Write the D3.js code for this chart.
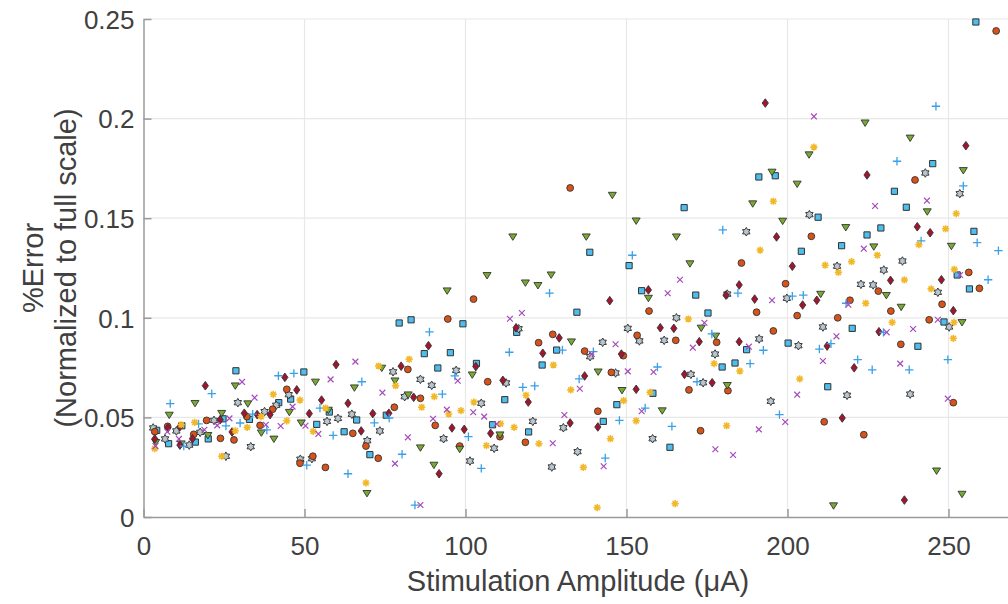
<!DOCTYPE html>
<html><head><meta charset="utf-8">
<script src="https://cdn.jsdelivr.net/npm/d3@7"></script>
<style>body{margin:0;background:#fff}svg{display:block}</style>
</head><body>
<svg id="c" width="1008" height="604"></svg>
<script>
// ---- data (x: Stimulation Amplitude µA, y: %Error) ----
const xTicks = [0, 50, 100, 150, 200, 250];
const yTicks = [0, 0.05, 0.1, 0.15, 0.2, 0.25];
const yTickLabels = ["0", "0.05", "0.1", "0.15", "0.2", "0.25"];

const plusPts = [[41.9,0.0709],[46.7,0.0721],[21.2,0.0619],[8.3,0.0569],[54.8,0.0547],[33.9,0.0516],[17.1,0.0467],[25.6,0.0457],[30.0,0.0472],[38.3,0.0437],[58.9,0.0410],[12.5,0.0356],[50.7,0.0260],[88.8,0.0929],[113.6,0.0827],[96.7,0.0708],[67.8,0.0679],[92.8,0.0617],[117.8,0.0651],[121.5,0.0658],[76.3,0.0497],[71.7,0.0473],[100.9,0.0403],[80.3,0.0315],[63.5,0.0217],[84.3,0.0060],[104.9,0.0244],[179.9,0.1441],[151.8,0.1314],[126.1,0.1124],[184.6,0.1124],[176.5,0.0919],[130.1,0.0838],[139.7,0.0830],[159.6,0.0753],[135.3,0.0693],[171.9,0.0679],[147.8,0.0485],[155.8,0.0547],[164.1,0.0455],[143.4,0.0296],[246.1,0.2062],[234.0,0.1786],[254.6,0.1662],[241.5,0.1386],[258.9,0.1377],[265.5,0.1337],[262.3,0.1191],[201.5,0.1109],[204.9,0.1114],[218.2,0.1073],[229.8,0.0927],[213.5,0.0870],[209.9,0.0843],[192.5,0.0837],[249.8,0.0790],[221.8,0.0790],[226.3,0.0739],[237.8,0.0739],[188.4,0.0770],[197.5,0.0514]];

const circlePts = [[44.5,0.0641],[40.1,0.0541],[32.1,0.0504],[19.6,0.0485],[36.2,0.0460],[15.6,0.0415],[23.9,0.0395],[28.1,0.0387],[3.5,0.0428],[7.5,0.0455],[48.6,0.0270],[52.6,0.0305],[56.5,0.0249],[102.5,0.1094],[94.5,0.0994],[122.7,0.0875],[82.1,0.0741],[106.9,0.0679],[86.0,0.0596],[77.9,0.0551],[90.6,0.0460],[110.7,0.0403],[65.0,0.0420],[69.1,0.0356],[72.9,0.0295],[98.2,0.0356],[118.6,0.0375],[157.0,0.1034],[127.1,0.0917],[153.3,0.0912],[165.3,0.0887],[178.0,0.0877],[137.0,0.0833],[149.0,0.0810],[145.3,0.0726],[181.5,0.0634],[169.4,0.0638],[141.1,0.0531],[173.0,0.0433],[132.5,0.1652],[264.8,0.2440],[239.6,0.1692],[207.4,0.1409],[185.7,0.1275],[256.3,0.1228],[259.6,0.1148],[199.4,0.1171],[228.2,0.1134],[219.4,0.1088],[248.0,0.1068],[232.1,0.1034],[190.4,0.1028],[203.0,0.1011],[215.6,0.1000],[244.0,0.0990],[195.6,0.0934],[235.2,0.0867],[251.5,0.0574],[211.4,0.0478],[223.7,0.0413]];

const asteriskPts = [[40.3,0.0616],[48.6,0.0587],[56.5,0.0547],[36.5,0.0504],[44.5,0.0483],[15.9,0.0475],[32.2,0.0450],[52.7,0.0430],[28.5,0.0433],[11.7,0.0463],[3.5,0.0343],[24.3,0.0305],[82.5,0.0792],[73.0,0.0758],[78.3,0.0659],[90.3,0.0604],[118.8,0.0611],[102.6,0.0577],[86.4,0.0551],[94.8,0.0517],[98.6,0.0534],[110.9,0.0468],[115.1,0.0450],[69.1,0.0171],[106.5,0.0358],[122.8,0.0368],[169.2,0.0994],[127.3,0.0763],[177.2,0.0770],[132.7,0.0638],[157.3,0.0626],[185.2,0.0733],[149.1,0.0584],[153.0,0.0483],[181.1,0.0458],[145.0,0.0393],[136.6,0.0249],[165.1,0.0067],[140.9,0.0047],[208.2,0.1857],[195.6,0.1585],[252.4,0.1523],[249.1,0.1447],[240.8,0.1367],[191.5,0.1340],[227.9,0.1314],[211.7,0.1264],[215.8,0.1228],[219.9,0.1282],[236.3,0.1190],[251.8,0.1243],[244.6,0.1145],[224.3,0.1073],[251.7,0.0977],[232.5,0.0977],[251.5,0.0897],[203.8,0.0693]];

const crossPts = [[58.1,0.0691],[30.6,0.0678],[34.5,0.0599],[46.3,0.0554],[50.3,0.0458],[26.7,0.0495],[22.9,0.0460],[38.0,0.0463],[42.6,0.0457],[54.3,0.0417],[18.9,0.0438],[11.0,0.0392],[7.4,0.0428],[3.7,0.0356],[117.5,0.1024],[113.8,0.0995],[65.8,0.0780],[97.6,0.0684],[74.2,0.0624],[94.2,0.0539],[102.4,0.0526],[105.8,0.0504],[89.9,0.0493],[109.7,0.0467],[82.1,0.0400],[78.1,0.0268],[86.0,0.0060],[166.6,0.1191],[162.8,0.1123],[174.2,0.0975],[146.6,0.0867],[170.6,0.0850],[139.2,0.0818],[150.4,0.0731],[158.4,0.0728],[135.5,0.0644],[130.7,0.0512],[154.7,0.0531],[127.1,0.0370],[177.6,0.0340],[183.1,0.0311],[142.9,0.0255],[208.2,0.2011],[227.2,0.1561],[243.3,0.1588],[223.7,0.1347],[253.6,0.1215],[195.2,0.1088],[218.9,0.1066],[246.7,0.0990],[239.0,0.0944],[230.8,0.0927],[215.2,0.0907],[188.0,0.0855],[211.0,0.0783],[235.0,0.0770],[203.0,0.0614],[249.8,0.0594],[199.3,0.0477],[191.1,0.0440]];

const trianglePts = [[53.4,0.0678],[28.5,0.0659],[16.0,0.0571],[32.4,0.0569],[57.4,0.0537],[45.3,0.0526],[8.0,0.0512],[24.3,0.0521],[49.0,0.0473],[36.6,0.0423],[40.5,0.0392],[20.0,0.0410],[11.7,0.0368],[3.8,0.0375],[118.6,0.1176],[122.5,0.1163],[94.3,0.1136],[74.0,0.0748],[102.1,0.0714],[78.1,0.0684],[65.5,0.0649],[82.2,0.0614],[110.7,0.0413],[86.0,0.0348],[90.2,0.0261],[69.4,0.0119],[98.2,0.0341],[114.7,0.1407],[106.7,0.1213],[153.0,0.1487],[137.5,0.1407],[165.5,0.1407],[169.7,0.1272],[126.6,0.1216],[156.8,0.1099],[173.2,0.0949],[177.7,0.0909],[132.9,0.0880],[141.2,0.0729],[181.3,0.0661],[148.6,0.0636],[161.1,0.0534],[145.6,0.1616],[224.1,0.1979],[238.1,0.1903],[206.7,0.1819],[254.6,0.1740],[195.2,0.1732],[203.0,0.1672],[189.2,0.1573],[243.4,0.1533],[198.5,0.1486],[218.1,0.1454],[250.9,0.1360],[226.8,0.1357],[210.3,0.1119],[230.7,0.1113],[235.3,0.1054],[254.2,0.0977],[246.3,0.0232],[254.2,0.0115],[214.3,0.0057]];

const squarePts = [[28.7,0.0734],[49.8,0.0728],[45.7,0.0592],[42.0,0.0574],[57.7,0.0527],[32.9,0.0490],[53.8,0.0465],[24.7,0.0493],[20.1,0.0392],[16.1,0.0376],[11.9,0.0458],[4.1,0.0435],[7.8,0.0368],[79.4,0.0974],[83.1,0.0990],[99.2,0.0970],[115.9,0.0927],[87.2,0.0820],[95.3,0.0825],[103.4,0.0771],[91.4,0.0748],[112.2,0.0589],[66.2,0.0487],[75.4,0.0511],[108.4,0.0463],[119.6,0.0427],[62.3,0.0428],[70.3,0.0313],[167.9,0.1553],[138.6,0.1329],[150.8,0.1262],[154.7,0.1136],[171.5,0.1114],[134.6,0.1028],[175.3,0.1024],[128.3,0.0838],[183.7,0.0773],[179.7,0.0753],[123.8,0.0763],[158.2,0.0621],[147.0,0.0564],[142.8,0.0480],[163.5,0.0350],[258.5,0.2485],[245.1,0.1774],[196.2,0.1713],[191.1,0.1707],[233.2,0.1635],[236.9,0.1555],[209.5,0.1505],[229.0,0.1451],[257.9,0.1434],[224.7,0.1416],[216.8,0.1362],[204.3,0.1334],[252.7,0.1215],[256.5,0.1145],[248.6,0.0979],[220.1,0.0947],[200.2,0.0873],[240.5,0.0857],[187.3,0.0840],[212.5,0.0654]];

const diamondPts = [[43.9,0.0701],[47.6,0.0638],[59.8,0.0765],[19.2,0.0659],[55.3,0.0587],[51.5,0.0519],[31.3,0.0521],[35.3,0.0514],[39.3,0.0514],[23.8,0.0488],[27.5,0.0427],[15.2,0.0393],[11.3,0.0361],[7.6,0.0448],[11.3,0.0453],[3.5,0.0392],[115.7,0.0950],[88.5,0.0860],[103.2,0.0755],[80.0,0.0757],[83.9,0.0601],[111.6,0.0686],[119.5,0.0577],[63.5,0.0571],[71.2,0.0519],[76.2,0.0521],[95.8,0.0447],[99.6,0.0440],[107.8,0.0420],[67.6,0.0432],[91.8,0.0217],[185.0,0.1165],[156.8,0.1140],[180.9,0.1114],[144.8,0.1086],[160.5,0.0950],[164.7,0.0947],[172.6,0.0880],[129.1,0.0899],[185.0,0.0880],[148.4,0.0818],[124.0,0.0822],[168.0,0.0716],[137.0,0.0708],[176.6,0.0674],[153.0,0.0641],[132.5,0.0472],[141.1,0.0452],[193.1,0.2078],[255.4,0.1864],[224.7,0.1717],[240.3,0.1457],[244.3,0.1427],[196.6,0.1406],[201.5,0.1259],[232.0,0.1188],[247.8,0.1191],[209.1,0.1088],[204.7,0.1064],[189.8,0.1094],[251.5,0.1036],[228.4,0.0930],[212.3,0.0858],[220.7,0.0749],[217.0,0.0497],[236.3,0.0085]];

const hexagramPts = [[45.1,0.0614],[29.3,0.0574],[41.2,0.0561],[60.4,0.0495],[37.6,0.0529],[57.0,0.0480],[21.9,0.0485],[17.6,0.0425],[14.2,0.0361],[33.3,0.0353],[3.0,0.0447],[10.2,0.0432],[6.7,0.0392],[25.6,0.0305],[48.7,0.0290],[52.3,0.0293],[116.5,0.0945],[77.5,0.0729],[97.1,0.0736],[86.0,0.0691],[112.6,0.0673],[89.5,0.0661],[81.1,0.0604],[104.9,0.0571],[64.7,0.0516],[120.9,0.0480],[73.4,0.0432],[93.2,0.0393],[69.5,0.0383],[101.4,0.0281],[108.9,0.0345],[181.3,0.1119],[165.5,0.1000],[150.4,0.0947],[154.0,0.0884],[161.7,0.0887],[142.6,0.0877],[138.7,0.0805],[177.5,0.0818],[146.6,0.0723],[170.0,0.0716],[173.8,0.0674],[130.4,0.0448],[158.1,0.0393],[134.8,0.0328],[126.8,0.0251],[242.8,0.1727],[253.5,0.1623],[206.8,0.1518],[187.2,0.1432],[215.4,0.1259],[235.7,0.1285],[229.9,0.1240],[246.7,0.1128],[222.8,0.1168],[226.6,0.1165],[199.8,0.1098],[250.2,0.0954],[211.0,0.0954],[191.2,0.0894],[203.4,0.0860],[218.5,0.0611],[238.1,0.0617],[194.8,0.0581]];

// ---- layout ----
const svg = d3.select("#c");
const x = d3.scaleLinear().domain([0, 270]).range([143.5, 143.5 + 270 * 3.22]);
const y = d3.scaleLinear().domain([0, 0.25]).range([517, 19]);
const FONT = "'Liberation Sans', Arial, Helvetica, sans-serif";
const TXT = "#404040";

// grid
const g = svg.append("g");
g.selectAll(".gx").data(xTicks.slice(1)).join("line")
  .attr("x1", d => x(d)).attr("x2", d => x(d)).attr("y1", y(0)).attr("y2", y(0.25))
  .attr("stroke", "#e8e8e8").attr("stroke-width", 1.2);
g.selectAll(".gy").data(yTicks.slice(1)).join("line")
  .attr("x1", x(0)).attr("x2", 1008).attr("y1", d => y(d)).attr("y2", d => y(d))
  .attr("stroke", "#e8e8e8").attr("stroke-width", 1.2);

// axes (inward ticks)
const xAxis = d3.axisBottom(x).tickValues(xTicks).tickSize(-8).tickSizeOuter(0).tickFormat(d3.format("d")).tickPadding(20);
const yAxis = d3.axisLeft(y).tickValues(yTicks).tickSize(-8).tickSizeOuter(0).tickFormat((d, i) => yTickLabels[i]).tickPadding(9);
const ax = svg.append("g").attr("transform", `translate(0,${y(0)})`).call(xAxis);
const ay = svg.append("g").attr("transform", `translate(${x(0)},0)`).call(yAxis);
[ax, ay].forEach(a => {
  a.select(".domain").attr("stroke", "#9a9a9a").attr("stroke-width", 1.5);
  a.selectAll(".tick line").attr("stroke", "#9a9a9a").attr("stroke-width", 1.5);
  a.selectAll(".tick text").attr("fill", TXT).attr("font-size", 26).attr("font-family", FONT);
});
ay.selectAll(".tick text").attr("dy", "0.36em");

// labels
svg.append("text").attr("x", 578).attr("y", 591).attr("text-anchor", "middle")
  .attr("font-family", FONT).attr("font-size", 29).attr("fill", TXT).text("Stimulation Amplitude (μA)");
svg.append("text").attr("transform", "translate(43,268) rotate(-90)").attr("text-anchor", "middle")
  .attr("font-family", FONT).attr("font-size", 29).attr("fill", TXT).text("%Error");
svg.append("text").attr("transform", "translate(76,268) rotate(-90)").attr("text-anchor", "middle")
  .attr("font-family", FONT).attr("font-size", 29).attr("fill", TXT).text("(Normalized to full scale)");

// marker shapes
const hexPath = (() => {
  const ro = 4.3, ri = 2.5; let p = "";
  for (let k = 0; k < 12; k++) {
    const a = -Math.PI / 2 + k * Math.PI / 6, r = k % 2 ? ri : ro;
    p += (k ? "L" : "M") + (r * Math.cos(a)).toFixed(2) + "," + (r * Math.sin(a)).toFixed(2);
  }
  return p + "Z";
})();
const shapes = {
  square: "M-3.1,-3.1H3.1V3.1H-3.1Z",
  circle: "M3.4,0A3.4,3.4 0 1,1 -3.4,0A3.4,3.4 0 1,1 3.4,0Z",
  diamond: "M0,-4.3L3.1,0L0,4.3L-3.1,0Z",
  triangle: "M-4,-2.8L4,-2.8L0,3.6Z",
  plus: "M-4.2,0H4.2M0,-4.2V4.2",
  cross: "M-2.9,-2.9L2.9,2.9M-2.9,2.9L2.9,-2.9",
  asterisk: "M-3.6,0H3.6M0,-3.6V3.6M-2.6,-2.6L2.6,2.6M-2.6,2.6L2.6,-2.6",
  hexagram: hexPath
};
const series = [
  {pts: squarePts, shape: "square", fill: "#4DBEEE", stroke: "#333", sw: 1},
  {pts: hexagramPts, shape: "hexagram", fill: "#b9c6cf", stroke: "#3a3a3a", sw: 1},
  {pts: circlePts, shape: "circle", fill: "#D95319", stroke: "#333", sw: 0.9},
  {pts: trianglePts, shape: "triangle", fill: "#77AC30", stroke: "#333", sw: 0.9},
  {pts: diamondPts, shape: "diamond", fill: "#A2142F", stroke: "#333", sw: 0.9},
  {pts: plusPts, shape: "plus", fill: "none", stroke: "#3aa0e8", sw: 1.3},
  {pts: asteriskPts, shape: "asterisk", fill: "none", stroke: "#F2B82A", sw: 1.6},
  {pts: crossPts, shape: "cross", fill: "none", stroke: "#A54BBA", sw: 1.2}
];
const plot = svg.append("g");
series.forEach(s => {
  plot.append("g").selectAll("path").data(s.pts).join("path")
    .attr("d", shapes[s.shape])
    .attr("transform", d => `translate(${x(d[0])},${y(d[1])})`)
    .attr("fill", s.fill).attr("stroke", s.stroke).attr("stroke-width", s.sw);
});
</script>
</body></html>
